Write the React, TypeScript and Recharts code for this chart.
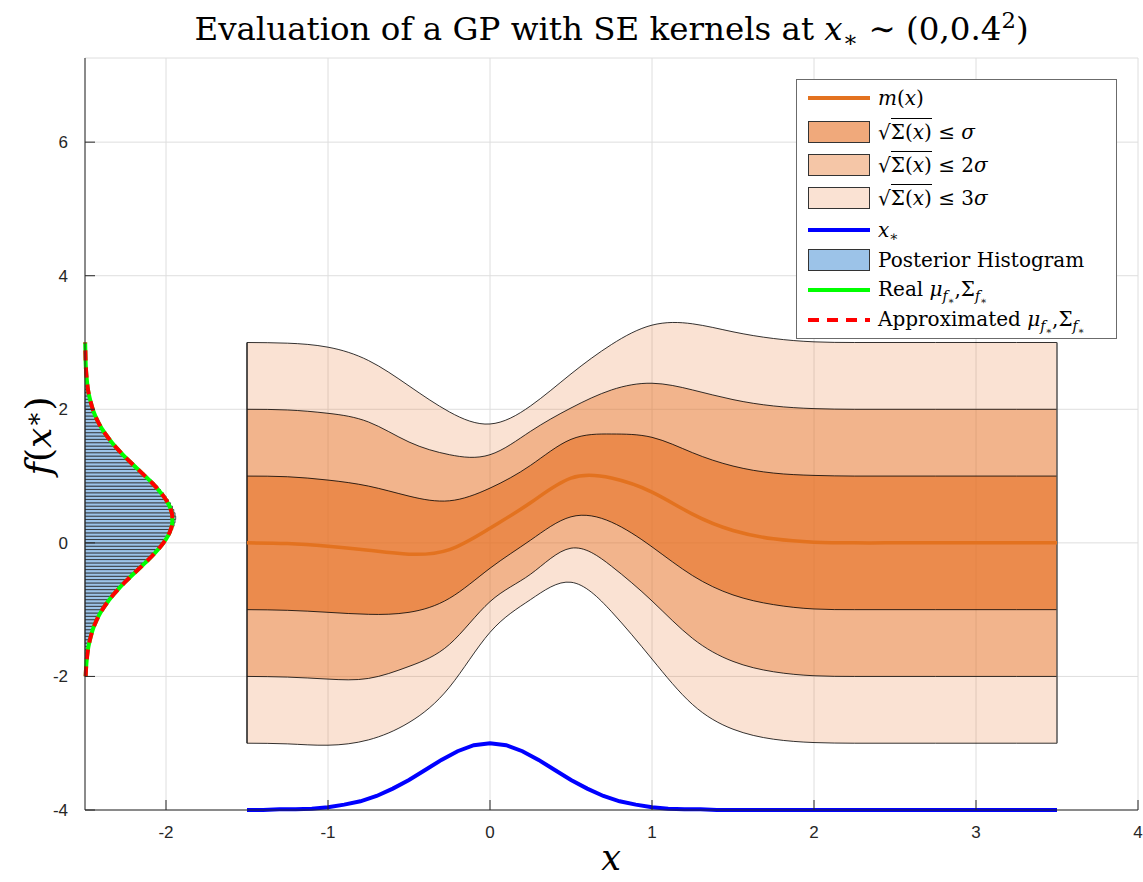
import React from "react";
import {
  Area,
  CartesianGrid,
  ComposedChart,
  Legend,
  Line,
  ReferenceArea,
  ReferenceLine,
  XAxis,
  YAxis,
} from "recharts";

// GP posterior on a regular grid: mean and half-widths of the 1/2/3 sigma bands
const GRID_X = [-1.5, -1.25, -1, -0.75, -0.5, -0.25, 0, 0.25, 0.5, 0.75, 1, 1.25, 1.5, 1.75, 2, 2.25, 2.5, 2.75, 3, 3.25, 3.5];
const MEAN = [0, -0.01, -0.05, -0.11, -0.17, -0.1, 0.22, 0.6, 0.97, 0.97, 0.76, 0.43, 0.185, 0.06, 0.01, 0, 0, 0, 0, 0, 0];
const HALF_1 = [1, 1, 0.99, 0.96, 0.87, 0.73, 0.6, 0.56, 0.58, 0.66, 0.82, 0.92, 0.965, 0.985, 1, 1, 1, 1, 1, 1, 1];
const HALF_2 = [2, 2, 1.99, 1.92, 1.68, 1.42, 1.1, 1.07, 1.05, 1.32, 1.63, 1.86, 1.96, 1.99, 2, 2, 2, 2, 2, 2, 2];
const HALF_3 = [3, 3, 2.98, 2.84, 2.52, 2.06, 1.56, 1.45, 1.56, 2.0, 2.5, 2.85, 2.975, 3, 3, 3, 3, 3, 3, 3, 3];

// input density x* ~ N(0, 0.4^2), drawn shifted down to the bottom of the axes
const XSTAR_X = [-1.5, -1.4, -1.3, -1.2, -1.1, -1, -0.9, -0.8, -0.7, -0.6, -0.5, -0.4, -0.3, -0.2, -0.1, 0, 0.1, 0.2, 0.3, 0.4, 0.5, 0.6, 0.7, 0.8, 0.9, 1, 1.1, 1.2, 1.3, 1.4, 1.5, 2, 2.5, 3, 3.5];
const XSTAR_Y = [-4, -4, -3.99, -3.99, -3.98, -3.96, -3.92, -3.87, -3.79, -3.68, -3.55, -3.4, -3.25, -3.12, -3.03, -3, -3.03, -3.12, -3.25, -3.4, -3.55, -3.68, -3.79, -3.87, -3.92, -3.96, -3.98, -3.99, -3.99, -4, -4, -4, -4, -4, -4];

// output density of f(x*), plotted sideways from the left edge
const DENS_Y = [-2, -1.9, -1.8, -1.7, -1.6, -1.5, -1.4, -1.3, -1.2, -1.1, -1, -0.9, -0.8, -0.7, -0.6, -0.5, -0.4, -0.3, -0.2, -0.1, 0, 0.1, 0.2, 0.3, 0.4, 0.5, 0.6, 0.7, 0.8, 0.9, 1, 1.1, 1.2, 1.3, 1.4, 1.5, 1.6, 1.7, 1.8, 1.9, 2, 2.1, 2.2, 2.3, 2.4, 2.5, 2.6, 2.7, 2.8, 2.9, 3];
const DENS_W = [0.004, 0.006, 0.009, 0.013, 0.018, 0.026, 0.036, 0.048, 0.064, 0.083, 0.107, 0.135, 0.167, 0.203, 0.242, 0.284, 0.328, 0.371, 0.413, 0.451, 0.484, 0.511, 0.529, 0.539, 0.539, 0.529, 0.511, 0.484, 0.451, 0.413, 0.371, 0.328, 0.284, 0.242, 0.203, 0.167, 0.135, 0.107, 0.083, 0.064, 0.048, 0.036, 0.026, 0.018, 0.013, 0.009, 0.006, 0.004, 0.003, 0.002, 0.001];

// posterior samples histogram (bins of 0.05 starting at -2)
const HIST_START = -2;
const HIST_BIN = 0.05;
const HIST_W = [
  0.004, 0.005, 0.007, 0.008, 0.01, 0.011, 0.014, 0.016, 0.019, 0.023,
  0.028, 0.032, 0.037, 0.043, 0.05, 0.057, 0.066, 0.075, 0.086, 0.097,
  0.11, 0.122, 0.137, 0.152, 0.168, 0.186, 0.204, 0.224, 0.243, 0.264,
  0.286, 0.306, 0.329, 0.35, 0.372, 0.392, 0.414, 0.432, 0.452, 0.47,
  0.488, 0.504, 0.52, 0.532, 0.542, 0.55, 0.556, 0.56, 0.556, 0.548,
  0.54, 0.528, 0.514, 0.5, 0.484, 0.466, 0.448, 0.428, 0.408, 0.386,
  0.364, 0.34, 0.318, 0.296, 0.274, 0.252, 0.232, 0.212, 0.192, 0.174,
  0.158, 0.142, 0.126, 0.112, 0.1, 0.088, 0.077, 0.067, 0.058, 0.05,
  0.043, 0.037, 0.032, 0.027, 0.023, 0.019, 0.016, 0.013, 0.011, 0.009,
  0.007, 0.006,
];

const X_TICKS = [-2, -1, 0, 1, 2, 3, 4];
const Y_TICKS = [-4, -2, 0, 2, 4, 6];
const X_DOMAIN = [-2.5, 4];
const Y_DOMAIN = [-4, 7.26];

const BAND_RGB = "230, 112, 35";
const MEAN_COLOR = "#E3721F";
const HIST_FILL = "#9CC3E8";
const SERIF = "'DejaVu Serif', 'Liberation Serif', serif";
const SANS = "'Liberation Sans', Arial, Helvetica, sans-serif";

const gpData = GRID_X.map((x, i) => ({
  x,
  m: MEAN[i],
  b1: [MEAN[i] - HALF_1[i], MEAN[i] + HALF_1[i]],
  b2: [MEAN[i] - HALF_2[i], MEAN[i] + HALF_2[i]],
  b3: [MEAN[i] - HALF_3[i], MEAN[i] + HALF_3[i]],
}));
const xStarData = XSTAR_X.map((x, i) => ({ x, y: XSTAR_Y[i] }));
const densData = DENS_Y.map((y, i) => ({ x: X_DOMAIN[0] + DENS_W[i], y }));
const histBins = HIST_W.map((w, i) => ({
  y1: HIST_START + i * HIST_BIN,
  y2: HIST_START + (i + 1) * HIST_BIN,
  x2: X_DOMAIN[0] + w,
}));

const first = 0;
const last = GRID_X.length - 1;

const sub = (c: React.ReactNode) => (
  <sub style={{ fontSize: "0.7em", verticalAlign: "-0.3em", lineHeight: 0 }}>{c}</sub>
);

const sqrtSigma = (
  <span>
    √<span style={{ borderTop: "1px solid #000", paddingTop: 1 }}>Σ(<i>x</i>)</span>
  </span>
);

const muSigma = (
  <span>
    <i>μ</i>
    {sub(<span><i>f</i>{sub("∗")}</span>)},Σ{sub(<span><i>f</i>{sub("∗")}</span>)}
  </span>
);

type Row = { kind: "line" | "dash" | "patch"; color: string; label: React.ReactNode; h: number };

const LEGEND_ROWS: Row[] = [
  { kind: "line", color: MEAN_COLOR, label: <span><i>m</i>(<i>x</i>)</span>, h: 34 },
  { kind: "patch", color: `rgba(${BAND_RGB}, 0.6)`, label: <span>{sqrtSigma} ≤ <i>σ</i></span>, h: 33 },
  { kind: "patch", color: `rgba(${BAND_RGB}, 0.4)`, label: <span>{sqrtSigma} ≤ 2<i>σ</i></span>, h: 33 },
  { kind: "patch", color: `rgba(${BAND_RGB}, 0.2)`, label: <span>{sqrtSigma} ≤ 3<i>σ</i></span>, h: 33 },
  { kind: "line", color: "#0000FF", label: <span><i>x</i>{sub("∗")}</span>, h: 31 },
  { kind: "patch", color: HIST_FILL, label: "Posterior Histogram", h: 30 },
  { kind: "line", color: "#00FF00", label: <span>Real {muSigma}</span>, h: 30 },
  { kind: "dash", color: "#FF0000", label: <span>Approximated {muSigma}</span>, h: 30 },
];

function LegendBox() {
  return (
    <div
      style={{
        width: 319,
        height: 257,
        border: "1px solid #6b6b6b",
        background: "#fff",
        paddingTop: 1,
        boxSizing: "content-box",
        fontFamily: SERIF,
        fontSize: 20,
        color: "#000",
      }}
    >
      {LEGEND_ROWS.map((r, i) => (
        <div key={i} style={{ height: r.h, display: "flex", alignItems: "center" }}>
          <svg width={62} height={24} style={{ marginLeft: 11, marginRight: 8, flexShrink: 0 }}>
            {r.kind === "patch" ? (
              <rect x={0.5} y={1.5} width={61} height={21} fill={r.color} stroke="#333" strokeWidth={1} />
            ) : (
              <line
                x1={0}
                x2={62}
                y1={12}
                y2={12}
                stroke={r.color}
                strokeWidth={4}
                strokeDasharray={r.kind === "dash" ? "11 8" : undefined}
              />
            )}
          </svg>
          <span style={{ whiteSpace: "nowrap", lineHeight: 1 }}>{r.label}</span>
        </div>
      ))}
    </div>
  );
}

export default function App() {
  return (
    <div style={{ position: "absolute", left: 0, top: 0, width: 1143, height: 882, background: "#fff" }}>
      <div
        style={{
          position: "absolute",
          left: 0,
          width: 1223,
          top: 10,
          textAlign: "center",
          fontFamily: SERIF,
          fontSize: 32.5,
          color: "#000",
          whiteSpace: "nowrap",
        }}
      >
        Evaluation of a GP with SE kernels at <i>x</i>
        {sub("∗")} ∼ (0,0.4<sup style={{ fontSize: "0.7em", lineHeight: 0 }}>2</sup>)
      </div>
      <ComposedChart
        width={1143}
        height={882}
        data={gpData}
        margin={{ top: 58, right: 5, bottom: 32, left: 25 }}
      >
        <CartesianGrid stroke="#dedede" strokeWidth={1} />
        <XAxis
          dataKey="x"
          type="number"
          domain={X_DOMAIN}
          ticks={X_TICKS}
          height={40}
          tickSize={-10}
          tickMargin={26}
          stroke="#262626"
          tick={{ fill: "#262626", fontSize: 17, fontFamily: SANS }}
        />
        <YAxis
          type="number"
          domain={Y_DOMAIN}
          ticks={Y_TICKS}
          width={60}
          tickSize={-10}
          tickMargin={27}
          stroke="#262626"
          tick={{ fill: "#262626", fontSize: 17, fontFamily: SANS }}
        />
        <Area
          dataKey="b3"
          type="natural"
          fill={`rgb(${BAND_RGB})`}
          fillOpacity={0.2}
          stroke="#000"
          strokeWidth={0.8}
          isAnimationActive={false}
          activeDot={false}
        />
        <Area
          dataKey="b2"
          type="natural"
          fill={`rgb(${BAND_RGB})`}
          fillOpacity={0.4}
          stroke="#000"
          strokeWidth={0.8}
          isAnimationActive={false}
          activeDot={false}
        />
        <Area
          dataKey="b1"
          type="natural"
          fill={`rgb(${BAND_RGB})`}
          fillOpacity={0.6}
          stroke="#000"
          strokeWidth={0.8}
          isAnimationActive={false}
          activeDot={false}
        />
        <ReferenceLine
          segment={[
            { x: GRID_X[first], y: MEAN[first] - HALF_3[first] },
            { x: GRID_X[first], y: MEAN[first] + HALF_3[first] },
          ]}
          stroke="#1a1a1a"
          strokeWidth={1.5}
        />
        <ReferenceLine
          segment={[
            { x: GRID_X[last], y: MEAN[last] - HALF_3[last] },
            { x: GRID_X[last], y: MEAN[last] + HALF_3[last] },
          ]}
          stroke="#555"
          strokeWidth={1.5}
        />
        <Line
          dataKey="m"
          type="natural"
          stroke={MEAN_COLOR}
          strokeWidth={3.5}
          dot={false}
          activeDot={false}
          isAnimationActive={false}
        />
        <Line
          data={xStarData}
          dataKey="y"
          type="linear"
          stroke="#0000FF"
          strokeWidth={4}
          dot={false}
          activeDot={false}
          isAnimationActive={false}
        />
        {histBins.map((b, i) => (
          <ReferenceArea
            key={i}
            x1={X_DOMAIN[0]}
            x2={b.x2}
            y1={b.y1}
            y2={b.y2}
            fill={HIST_FILL}
            fillOpacity={1}
            stroke="#1c1c1c"
            strokeWidth={0.7}
          />
        ))}
        <Line
          data={densData}
          dataKey="y"
          type="monotone"
          stroke="#00FF00"
          strokeWidth={4}
          dot={false}
          activeDot={false}
          isAnimationActive={false}
        />
        <Line
          data={densData}
          dataKey="y"
          type="monotone"
          stroke="#FF0000"
          strokeWidth={4}
          strokeDasharray="10 7"
          dot={false}
          activeDot={false}
          isAnimationActive={false}
        />
        <Legend
          layout="vertical"
          align="center"
          verticalAlign="middle"
          wrapperStyle={{ left: 796, top: 79, width: 321 }}
          content={() => <LegendBox />}
        />
      </ComposedChart>
      <div
        style={{
          position: "absolute",
          left: 561,
          width: 100,
          top: 838,
          textAlign: "center",
          fontFamily: SERIF,
          fontStyle: "italic",
          fontSize: 35,
          color: "#000",
        }}
      >
        x
      </div>
      <div
        style={{
          position: "absolute",
          left: 38,
          top: 436,
          transform: "translate(-50%, -50%) rotate(-90deg)",
          fontFamily: SERIF,
          fontSize: 36,
          color: "#000",
          whiteSpace: "nowrap",
        }}
      >
        <i>f</i>(<i>x</i>
        <sup style={{ fontSize: "0.7em", lineHeight: 0, verticalAlign: "0.35em" }}>∗</sup>)
      </div>
    </div>
  );
}
